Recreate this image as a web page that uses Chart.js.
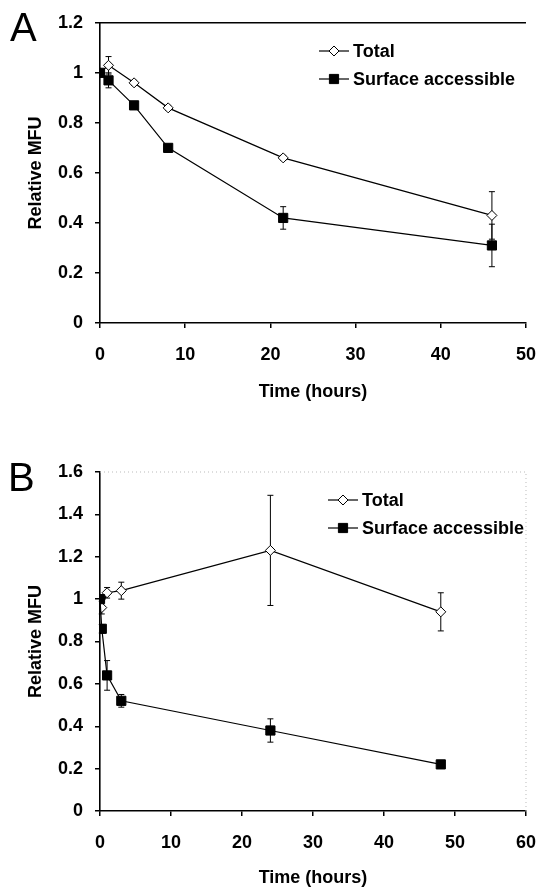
<!DOCTYPE html>
<html>
<head>
<meta charset="utf-8">
<title>Relative MFU over time</title>
<script src="https://cdn.jsdelivr.net/npm/chart.js@4.4.0/dist/chart.umd.min.js"></script>
<style>
  html, body { margin: 0; padding: 0; background: #fff; }
  body { width: 552px; height: 890px; position: relative; overflow: hidden; font-family: "Liberation Sans", Arial, sans-serif; }
  .panel { position: absolute; left: 0; width: 552px; }
  .tag { position: absolute; font-size: 40px; line-height: 1; color: #000; z-index: 2; }
</style>
</head>
<body>
<div class="panel" style="top:0;height:440px"><canvas id="chartA" width="552" height="440"></canvas></div>
<div class="panel" style="top:440px;height:450px"><canvas id="chartB" width="552" height="450"></canvas></div>
<div class="tag" style="left:10px;top:7px">A</div>
<div class="tag" style="left:8px;top:457px">B</div>

<script>
const FONT = '"Liberation Sans", Arial, Helvetica, sans-serif';
const FONT_SIZE = 18;
const seriesNames = ['Total', 'Surface accessible'];

// Panel A
const timeA = [0, 1, 4, 8, 21.5, 46];
const totalA = [1.0, 1.03, 0.96, 0.86, 0.66, 0.43];
const totalErrA = [0, 0.035, 0.01, 0.01, 0.01, 0.095];
const surfaceA = [1.0, 0.97, 0.87, 0.70, 0.42, 0.31];
const surfaceErrA = [0, 0.03, 0.01, 0.01, 0.045, 0.085];
const xTicksA = [0, 10, 20, 30, 40, 50];
const yTicksA = [0, 0.2, 0.4, 0.6, 0.8, 1, 1.2];

// Panel B
const timeB = [0, 0.25, 1, 3, 24, 48];
const totalB = [1.0, 0.96, 1.03, 1.04, 1.23, 0.94];
const totalErrB = [0, 0.03, 0.025, 0.04, 0.26, 0.09];
const surfaceB = [1.0, 0.86, 0.64, 0.52, 0.38, 0.22];
const surfaceErrB = [0, 0.02, 0.07, 0.03, 0.055, 0.01];
const xTicksB = [0, 10, 20, 30, 40, 50, 60];
const yTicksB = [0, 0.2, 0.4, 0.6, 0.8, 1, 1.2, 1.4, 1.6];

// vertical error bars with small caps, drawn under the markers
const errorBars = {
  id: 'errorBars',
  beforeDatasetsDraw(chart) {
    const { ctx, scales: { x, y } } = chart;
    ctx.save();
    ctx.strokeStyle = '#000';
    ctx.lineWidth = 1;
    chart.data.datasets.forEach((ds) => {
      (ds.errors || []).forEach((e, i) => {
        if (!e) return;
        const p = ds.data[i];
        const px = x.getPixelForValue(p.x);
        const lo = y.getPixelForValue(p.y - e);
        const hi = y.getPixelForValue(p.y + e);
        ctx.beginPath();
        ctx.moveTo(px, lo); ctx.lineTo(px, hi);
        ctx.moveTo(px - 3, lo); ctx.lineTo(px + 3, lo);
        ctx.moveTo(px - 3, hi); ctx.lineTo(px + 3, hi);
        ctx.stroke();
      });
    });
    ctx.restore();
  }
};

// top (and right) border of the plot area
const frame = {
  id: 'frame',
  afterDraw(chart, args, opts) {
    const { ctx, chartArea: a } = chart;
    ctx.save();
    ctx.strokeStyle = opts.color;
    ctx.lineWidth = opts.width;
    ctx.setLineDash(opts.dash || []);
    ctx.beginPath();
    ctx.moveTo(a.left, a.top); ctx.lineTo(a.right, a.top);
    if (opts.right) { ctx.lineTo(a.right, a.bottom); }
    ctx.stroke();
    ctx.restore();
  }
};

// legend drawn inside the plot, Excel style
const insideLegend = {
  id: 'insideLegend',
  afterDraw(chart, args, opts) {
    const { ctx } = chart;
    ctx.save();
    ctx.font = 'bold ' + FONT_SIZE + 'px ' + FONT;
    ctx.textBaseline = 'middle';
    chart.data.datasets.forEach((ds, i) => {
      const y = opts.y + i * opts.gap;
      ctx.strokeStyle = '#000';
      ctx.lineWidth = 1.2;
      ctx.beginPath();
      ctx.moveTo(opts.x, y); ctx.lineTo(opts.x + 30, y);
      ctx.stroke();
      ctx.fillStyle = ds.pointBackgroundColor;
      ctx.strokeStyle = ds.pointBorderColor;
      ctx.lineWidth = 1;
      Chart.helpers.drawPoint(ctx, { pointStyle: ds.pointStyle, radius: ds.pointRadius, borderWidth: 1, rotation: 0 }, opts.x + 15, y);
      ctx.fillStyle = '#000';
      ctx.fillText(ds.label, opts.x + 34, y + 1);
    });
    ctx.restore();
  }
};

function series(times, values, errors, i) {
  const total = i === 0;
  return {
    label: seriesNames[i],
    data: times.map((t, k) => ({ x: t, y: values[k] })),
    errors: errors,
    borderColor: '#000',
    borderWidth: 1.2,
    tension: 0,
    pointStyle: total ? 'rectRot' : 'rect',
    pointRadius: total ? 5 : 6.5,
    pointBackgroundColor: total ? '#fff' : '#000',
    pointBorderColor: '#000',
    pointBorderWidth: 1,
    order: total ? 1 : 0
  };
}

function makePanel(id, p) {
  const tickFont = { family: FONT, size: FONT_SIZE, weight: 'bold' };
  return new Chart(document.getElementById(id), {
    type: 'line',
    data: {
      datasets: [
        series(p.time, p.total, p.totalErr, 0),
        series(p.time, p.surface, p.surfaceErr, 1)
      ]
    },
    options: {
      responsive: false,
      animation: false,
      devicePixelRatio: 1,
      layout: { padding: p.padding },
      plugins: {
        legend: { display: false },
        tooltip: { enabled: false },
        frame: p.frame,
        insideLegend: p.legend
      },
      scales: {
        x: {
          type: 'linear',
          min: p.xTicks[0],
          max: p.xTicks[p.xTicks.length - 1],
          afterBuildTicks: (s) => { s.ticks = p.xTicks.map((v) => ({ value: v })); },
          afterFit: (s) => { s.height = p.xHeight; },
          border: { color: '#000', width: 1.6 },
          grid: { drawOnChartArea: false, tickLength: 5, color: '#000', lineWidth: 1.5 },
          ticks: { color: '#000', padding: p.xTickPad, maxRotation: 0, font: tickFont },
          title: { display: true, text: 'Time (hours)', color: '#000', font: tickFont, padding: { top: 0, bottom: p.xTitlePad } }
        },
        y: {
          min: 0,
          max: p.yTicks[p.yTicks.length - 1],
          afterBuildTicks: (s) => { s.ticks = p.yTicks.map((v) => ({ value: v })); },
          afterFit: (s) => { s.width = 100; },
          border: { color: '#000', width: 1.6 },
          grid: { drawOnChartArea: false, tickLength: 5, color: '#000', lineWidth: 1.5 },
          ticks: { color: '#000', padding: 12, font: tickFont, callback: (v) => String(+v.toFixed(1)) },
          title: { display: true, text: 'Relative MFU', color: '#000', font: tickFont, padding: { top: 25, bottom: 0 } }
        }
      }
    },
    plugins: [errorBars, frame, insideLegend]
  });
}

makePanel('chartA', {
  time: timeA, total: totalA, totalErr: totalErrA, surface: surfaceA, surfaceErr: surfaceErrA,
  xTicks: xTicksA, yTicks: yTicksA,
  padding: { left: 0, right: 14, top: 19, bottom: 0 },
  xHeight: 117, xTickPad: 16, xTitlePad: 37,
  frame: { color: '#000', width: 1.5, right: false },
  legend: { x: 319, y: 51, gap: 28 }
});

makePanel('chartB', {
  time: timeB, total: totalB, totalErr: totalErrB, surface: surfaceB, surfaceErr: surfaceErrB,
  xTicks: xTicksB, yTicks: yTicksB,
  padding: { left: 0, right: 9, top: 32, bottom: 0 },
  xHeight: 79, xTickPad: 16, xTitlePad: 1,
  frame: { color: '#bbb', width: 1, dash: [1, 3], right: true },
  legend: { x: 328, y: 60, gap: 28 }
});
</script>
</body>
</html>
